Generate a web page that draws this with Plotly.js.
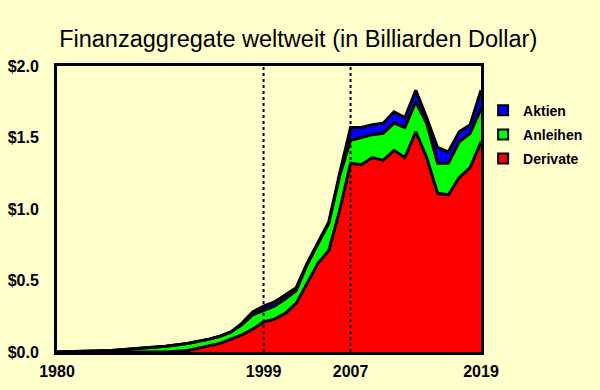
<!DOCTYPE html>
<html>
<head>
<meta charset="utf-8">
<script src="https://cdn.plot.ly/plotly-3.0.1.min.js"></script>
<style>html,body{margin:0;padding:0;background:#FFFFCC;}#chart{width:600px;height:390px;}</style>
</head>
<body>
<div id="chart"></div>
<script>
// Data (in quadrillion / Billiarden US-Dollar)
const years = [1980, 1985, 1990, 1992, 1994, 1995, 1996, 1997, 1998, 1999, 2000, 2001, 2002, 2003, 2004, 2005, 2006, 2007, 2008, 2009, 2010, 2011, 2012, 2013, 2014, 2015, 2016, 2017, 2018, 2019];
const derivate = [0, 0, 0, 0.01, 0.04, 0.06, 0.09, 0.12, 0.16, 0.21, 0.23, 0.27, 0.34, 0.48, 0.62, 0.71, 0.99, 1.32, 1.31, 1.36, 1.34, 1.41, 1.36, 1.54, 1.36, 1.11, 1.10, 1.22, 1.29, 1.47];
const anleihen = [0, 0.01, 0.04, 0.05, 0.05, 0.05, 0.05, 0.07, 0.10, 0.08, 0.09, 0.10, 0.09, 0.13, 0.14, 0.19, 0.24, 0.16, 0.19, 0.16, 0.19, 0.19, 0.21, 0.21, 0.24, 0.21, 0.22, 0.25, 0.24, 0.23];
const aktien = [0, 0, 0, 0, 0, 0, 0, 0.01, 0.02, 0.03, 0.03, 0.03, 0.02, 0.01, 0.01, 0.01, 0.02, 0.09, 0.07, 0.07, 0.07, 0.08, 0.07, 0.08, 0.04, 0.11, 0.08, 0.07, 0.06, 0.13];
const seriesNames = ['Aktien', 'Anleihen', 'Derivate'];
const seriesColors = ['#0000FF', '#00FF00', '#FF0000'];
const xTicks = [1980, 1999, 2007, 2019];
const markerYears = [1999, 2007];
const yTicks = [0, 0.5, 1.0, 1.5, 2.0];
const yTickLabels = ['$0.0', '$0.5', '$1.0', '$1.5', '$2.0'];

const FONT = 'Liberation Sans, Arial, sans-serif';
const bg = '#FFFFCC';

const stackData = [derivate, anleihen, aktien];
const stackNames = ['Derivate', 'Anleihen', 'Aktien'];
const stackColors = ['#FF0000', '#00FF00', '#0000FF'];

const traces = stackData.map((vals, i) => ({
  type: 'scatter', mode: 'lines', x: years, y: vals, name: stackNames[i],
  stackgroup: 'one', fillcolor: stackColors[i],
  line: {color: '#000000', width: 3, shape: 'linear'},
  showlegend: false, hoverinfo: 'skip'
}));

// legend entries (marker-only proxies)
seriesNames.forEach((n, i) => {
  traces.push({
    type: 'scatter', mode: 'markers', x: [null], y: [null], name: n,
    legendgroup: 'g' + i,
    marker: {symbol: 'square', size: 10, color: seriesColors[i], line: {color: '#000000', width: 2}},
    showlegend: true
  });
});

const shapes = markerYears.map(yr => ({
  type: 'line', xref: 'x', yref: 'paper', x0: yr, x1: yr, y0: 0, y1: 1,
  line: {color: '#000000', width: 2, dash: 'dot'}, layer: 'above'
}));

const layout = {
  width: 600, height: 390,
  paper_bgcolor: bg, plot_bgcolor: bg,
  margin: {l: 57, r: 116, t: 66, b: 38},
  font: {family: FONT, color: '#000000'},
  title: {text: 'Finanzaggregate weltweit (in Billiarden Dollar)', font: {family: FONT, size: 23.5, color: '#000000'},
          xref: 'container', x: 0.497, xanchor: 'center', yref: 'container', y: 0.9, yanchor: 'middle'},
  xaxis: {range: [1980, 2019], tickvals: xTicks, ticktext: xTicks.map(String), ticks: '', showgrid: false, zeroline: false,
          showline: true, mirror: true, linecolor: '#000000', linewidth: 3,
          tickfont: {family: FONT, size: 16, weight: 'bold', color: '#000000'}, ticklabelstandoff: 3},
  yaxis: {range: [0, 2], tickvals: yTicks, ticktext: yTickLabels, ticks: '', showgrid: false, zeroline: false,
          showline: true, mirror: true, linecolor: '#000000', linewidth: 3,
          tickfont: {family: FONT, size: 16, weight: 'bold', color: '#000000'}, ticklabelstandoff: 12},
  legend: {x: 1.005, xanchor: 'left', y: 0.9, yanchor: 'top', bgcolor: 'rgba(0,0,0,0)',
           font: {family: FONT, size: 14, weight: 'bold', color: '#000000'}, tracegroupgap: 3, itemwidth: 30},
  shapes: shapes,
  showlegend: true
};

Plotly.newPlot('chart', traces, layout, {displayModeBar: false, staticPlot: true});
</script>
</body>
</html>
